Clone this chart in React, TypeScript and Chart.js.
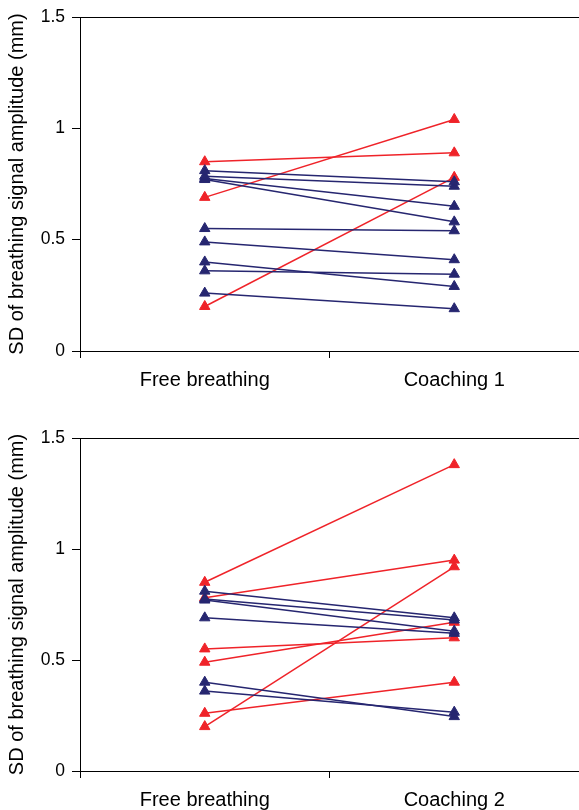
import React, { useEffect, useRef } from "react";
import { Chart, registerables } from "chart.js";

Chart.register(...registerables);

const categoriesTop = ["Free breathing", "Coaching 1"];
const categoriesBottom = ["Free breathing", "Coaching 2"];
const yTicks = [0, 0.5, 1, 1.5];

// Top panel: free breathing vs coaching 1 (one entry per subject)
const groupTop = ["b", "b", "b", "b", "b", "b", "b", "b", "b", "r", "r", "r"];
const freeTop = [0.81, 0.785, 0.775, 0.77, 0.55, 0.49, 0.4, 0.36, 0.26, 0.85, 0.69, 0.2];
const coachTop = [0.76, 0.74, 0.65, 0.58, 0.54, 0.41, 0.29, 0.345, 0.19, 0.89, 1.04, 0.78];

// Bottom panel: free breathing vs coaching 2
const groupBottom = ["b", "b", "b", "b", "b", "b", "r", "r", "r", "r", "r", "r"];
const freeBottom = [0.81, 0.775, 0.77, 0.69, 0.4, 0.36, 0.85, 0.78, 0.55, 0.49, 0.26, 0.2];
const coachBottom = [0.69, 0.68, 0.63, 0.62, 0.245, 0.265, 1.38, 0.95, 0.6, 0.67, 0.4, 0.92];

const RED = "#ef2329";
const NAVY = "#262670";
const FONT = "'Liberation Sans', Arial, sans-serif";
const TITLE = "SD of breathing signal amplitude (mm)";

const topBorder = {
  id: "topBorder",
  beforeDatasetsDraw(chart: any) {
    const { ctx, chartArea } = chart;
    ctx.save();
    ctx.strokeStyle = "#000";
    ctx.lineWidth = 1;
    const y = Math.round(chartArea.top) + 0.5;
    ctx.beginPath();
    ctx.moveTo(chartArea.left, y);
    ctx.lineTo(chartArea.right, y);
    ctx.stroke();
    ctx.restore();
  },
};

function makeConfig(
  labels: string[],
  groups: string[],
  a: number[],
  b: number[],
  padTop: number,
  xHeight: number
): any {
  const datasets = groups.map((g, i) => {
    const c = g === "r" ? RED : NAVY;
    return {
      data: [a[i], b[i]],
      borderColor: c,
      backgroundColor: c,
      borderWidth: 1.5,
      pointStyle: "triangle",
      pointRadius: 6,
      pointBackgroundColor: c,
      pointBorderColor: c,
      pointBorderWidth: 1,
      tension: 0,
      clip: false,
    };
  });
  return {
    type: "line",
    data: { labels, datasets },
    plugins: [topBorder],
    options: {
      animation: false,
      responsive: false,
      devicePixelRatio: 1,
      layout: { autoPadding: false, padding: { top: padTop, left: 0, right: 0, bottom: 0 } },
      plugins: { legend: { display: false }, tooltip: { enabled: false } },
      scales: {
        x: {
          type: "category",
          offset: true,
          grid: {
            display: true,
            offset: true,
            drawOnChartArea: false,
            drawTicks: true,
            tickLength: 7,
            color: "#000",
          },
          border: { display: true, color: "#000", width: 1 },
          ticks: { color: "#000", font: { family: FONT, size: 20 }, padding: 10, maxRotation: 0 },
          afterFit: (s: any) => {
            s.height = xHeight;
            s.paddingLeft = 0;
            s.paddingRight = 0;
          },
        },
        y: {
          min: 0,
          max: 1.5,
          afterBuildTicks: (s: any) => {
            s.ticks = yTicks.map((v) => ({ value: v }));
          },
          ticks: {
            color: "#000",
            font: { family: FONT, size: 17.5 },
            padding: 7,
            callback: (v: any) => String(Number(v)),
          },
          grid: { drawOnChartArea: false, drawTicks: true, tickLength: 8, color: "#000" },
          border: { display: true, color: "#000", width: 1 },
          title: {
            display: true,
            text: TITLE,
            color: "#000",
            font: { family: FONT, size: 20 },
            padding: { top: 5, bottom: 0 },
          },
          afterFit: (s: any) => {
            s.width = 80;
            s.paddingTop = 0;
            s.paddingBottom = 0;
          },
        },
      },
    },
  };
}

function Panel(props: {
  labels: string[];
  groups: string[];
  a: number[];
  b: number[];
  padTop: number;
  xHeight: number;
  top: number;
}) {
  const ref = useRef<HTMLCanvasElement | null>(null);
  useEffect(() => {
    if (!ref.current) return;
    const chart = new Chart(
      ref.current,
      makeConfig(props.labels, props.groups, props.a, props.b, props.padTop, props.xHeight)
    );
    return () => chart.destroy();
  }, []);
  return (
    <canvas
      ref={ref}
      width={579}
      height={405}
      style={{ position: "absolute", left: 0, top: props.top, width: 579, height: 405 }}
    />
  );
}

export default function App() {
  return (
    <div style={{ position: "absolute", left: 0, top: 0, width: 579, height: 810, background: "#fff" }}>
      <Panel labels={categoriesTop} groups={groupTop} a={freeTop} b={coachTop} padTop={17} xHeight={54} top={0} />
      <Panel
        labels={categoriesBottom}
        groups={groupBottom}
        a={freeBottom}
        b={coachBottom}
        padTop={33}
        xHeight={39}
        top={405}
      />
    </div>
  );
}
